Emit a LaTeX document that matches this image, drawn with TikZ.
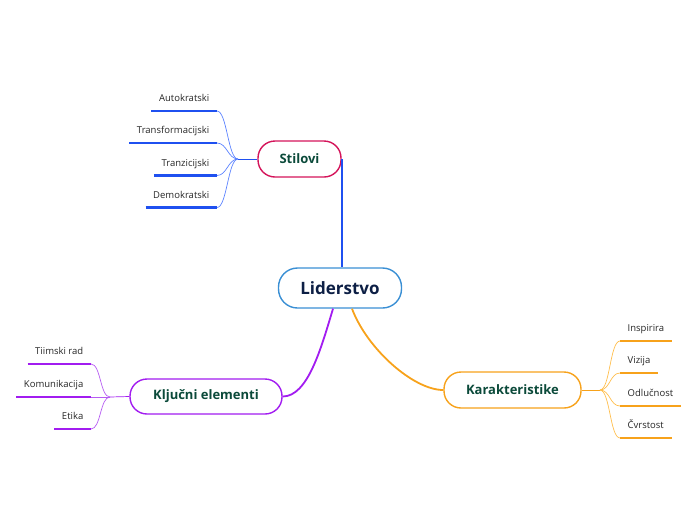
\documentclass[tikz,border=0pt]{standalone}
\usepackage{fontspec}
\setmainfont{Open Sans}
\usetikzlibrary{positioning}

\definecolor{ctrblue}{RGB}{58,143,212}
\definecolor{ctrtext}{RGB}{13,31,69}
\definecolor{topictext}{RGB}{11,74,58}
\definecolor{stilred}{RGB}{212,20,90}
\definecolor{brblue}{RGB}{31,80,240}
\definecolor{brbluel}{RGB}{91,130,255}
\definecolor{brpurple}{RGB}{162,28,240}
\definecolor{brpurplel}{RGB}{182,92,242}
\definecolor{brorange}{RGB}{247,162,27}
\definecolor{brorangel}{RGB}{255,190,77}

\begin{document}
\begin{tikzpicture}[x=1pt, y=-1pt,
  central/.style={rectangle, rounded corners=19pt, draw=ctrblue, line width=1.4pt, fill=white,
                  minimum width=123pt, minimum height=40pt, text=ctrtext,
                  font=\bfseries\fontsize{17}{20}\selectfont},
  topic/.style={rectangle, rounded corners=17pt, line width=1.4pt, fill=white,
                minimum height=36pt, text=topictext, font=\bfseries\fontsize{13}{16}\selectfont},
  leaf/.style={inner xsep=7.5pt, inner ysep=0pt, text height=7pt, text depth=9pt,
               text=black!85, font=\fontsize{9.5}{11}\selectfont},
  uline/.style={draw=#1, line width=2.5pt},
  twig/.style={draw=#1, line width=0.7pt},
  limb/.style={draw=#1, line width=1.8pt}
]
\useasboundingbox (0,0) rectangle (696,520);

% centre and main topics
\node[central] (lid) at (340,288) {Liderstvo};
\node[topic, draw=stilred, minimum width=83pt] (stil) at (299.5,159) {Stilovi};
\node[topic, draw=brpurple, minimum width=152pt, minimum height=35pt] (klj) at (206,396.5) {Ključni elementi};
\node[topic, draw=brorange, minimum width=137pt] (kar) at (512.5,390) {Karakteristike};

% Stilovi
\node[leaf, anchor=south east] (auto)  at (217,111)   {Autokratski};
\node[leaf, anchor=south east] (trans) at (217,143)   {Transformacijski};
\node[leaf, anchor=south east] (tranz) at (217,175.5) {Tranzicijski};
\node[leaf, anchor=south east] (demo)  at (217,207.5) {Demokratski};
\coordinate (js) at (238,159);

% Ključni elementi
\node[leaf, anchor=south east] (tim)  at (91,364) {Tiimski rad};
\node[leaf, anchor=south east] (kom)  at (91,397) {Komunikacija};
\node[leaf, anchor=south east] (eti)  at (91,429) {Etika};
\coordinate (jk) at (110,397);

% Karakteristike
\node[leaf, anchor=south west] (insp) at (620,341) {Inspirira};
\node[leaf, anchor=south west] (viz)  at (620,373) {Vizija};
\node[leaf, anchor=south west] (odl)  at (620,406) {Odlučnost};
\node[leaf, anchor=south west] (cvr)  at (620,438) {Čvrstost};
\coordinate (jr) at (600,390);

% main branches
\draw[limb=brblue] (stil.east) -- (stil.east |- lid.north);
\draw[limb=brpurple] ([xshift=-7pt]lid.south) .. controls +(-12,40) and +(25,0) .. (klj.east);
\draw[limb=brorange] ([xshift=12pt]lid.south) .. controls +(15,40) and +(-30,0) .. (kar.west);

% twigs and underlines
\draw[twig=brblue] (stil.west) -- (js);
\foreach \n in {auto,trans,tranz,demo} {
  \draw[twig=brbluel] (js) .. controls +(-10,0) and +(10,0) .. (\n.south east);
  \draw[uline=brblue] (\n.south west) -- (\n.south east);
}
\draw[twig=brpurple] (klj.west) -- (jk);
\foreach \n in {tim,kom,eti} {
  \draw[twig=brpurplel] (jk) .. controls +(-10,0) and +(10,0) .. (\n.south east);
  \draw[uline=brpurple] (\n.south west) -- (\n.south east);
}
\draw[twig=brorange] (kar.east) -- (jr);
\foreach \n in {insp,viz,odl,cvr} {
  \draw[twig=brorangel] (jr) .. controls +(10,0) and +(-10,0) .. (\n.south west);
  \draw[uline=brorange] (\n.south west) -- (\n.south east);
}
\end{tikzpicture}
\end{document}
